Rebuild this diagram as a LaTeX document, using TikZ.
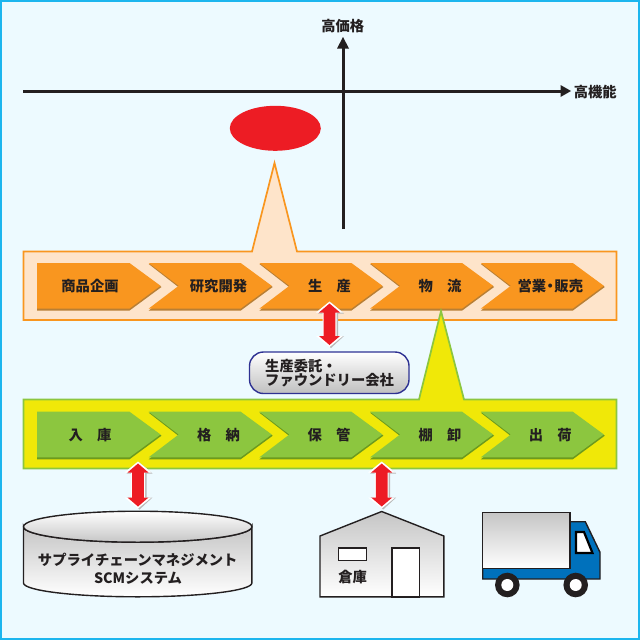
\documentclass[tikz,border=0pt]{standalone}
\usepackage{fontspec}
\setmainfont{Noto Sans CJK JP}
\usetikzlibrary{arrows.meta}
\definecolor{bgc}{HTML}{EDFAFF}
\definecolor{framec}{HTML}{1CB5EE}
\definecolor{orangec}{HTML}{F9961F}
\definecolor{orangesh}{HTML}{B87F35}
\definecolor{peachc}{HTML}{FEE4CA}
\definecolor{yellowc}{HTML}{F0E808}
\definecolor{greenc}{HTML}{8CC63F}
\definecolor{greensh}{HTML}{6C9A1E}
\definecolor{redc}{HTML}{ED1C24}
\definecolor{inkc}{HTML}{231F20}
\definecolor{bluec}{HTML}{0071BC}
\definecolor{pillc}{HTML}{2E3192}
\tikzset{
  lbl/.style={inner sep=0pt,font=\fontsize{14.3}{16}\selectfont\bfseries,text=inkc},
  axisline/.style={line width=3pt,draw=inkc},
  shapeline/.style={draw=inkc,line width=1.4pt,line join=miter},
  metal/.style={top color=gray!45,bottom color=white},
  metalrev/.style={top color=white,bottom color=gray!45},
}
\newcommand{\chevron}[4]{% left x, top y, fill, shadow
  \fill[#4] (#1,#2+1) -- ++(92,0) -- ++(32,23) -- ++(-32,23.6) -- ++(-92,0) -- ++(30,-23.3) -- cycle;
  \fill[#3] (#1,#2) -- ++(92,0) -- ++(31,22.8) -- ++(-31,22.8) -- ++(-92,0) -- ++(30,-22.8) -- cycle;
}
\newcommand{\firstchevron}[4]{%
  \fill[#4] (#1,#2+1) -- ++(92.5,0) -- ++(32,23) -- ++(-32,23.6) -- ++(-92.5,0) -- cycle;
  \fill[#3] (#1,#2) -- ++(92.5,0) -- ++(31,22.8) -- ++(-31,22.8) -- ++(-92.5,0) -- cycle;
}
\newcommand{\updown}[3]{% x, top y, bottom y
  \fill[gray!55] (#1+1.5,#2+1) -- (#1+14.5,#2+12) -- (#1+8.5,#2+12) -- (#1+8.5,#3-11) -- (#1+14.5,#3-11) -- (#1+1.5,#3+1) -- (#1-11.5,#3-11) -- (#1-5.5,#3-11) -- (#1-5.5,#2+12) -- (#1-11.5,#2+12) -- cycle;
  \fill[white] (#1,#2) -- (#1+13.5,#2+11) -- (#1+7,#2+11) -- (#1+7,#3-11) -- (#1+13.5,#3-11) -- (#1,#3) -- (#1-13.5,#3-11) -- (#1-7,#3-11) -- (#1-7,#2+11) -- (#1-13.5,#2+11) -- cycle;
  \fill[redc] (#1,#2+2) -- (#1+10.5,#2+11) -- (#1+5.8,#2+11) -- (#1+5.8,#3-11) -- (#1+10.5,#3-11) -- (#1,#3-2) -- (#1-10.5,#3-11) -- (#1-5.8,#3-11) -- (#1-5.8,#2+11) -- (#1-10.5,#2+11) -- cycle;
}
\begin{document}
\begin{tikzpicture}[x=1pt,y=-1pt]
\useasboundingbox (0,0) rectangle (640,640);
\fill[framec] (0,0) rectangle (640,640);
\fill[bgc] (2,2) rectangle (638,638);
% axes
\draw[axisline] (23,91) -- (562,91);
\fill[inkc] (571,91) -- (560.5,85) -- (560.5,97) -- cycle;
\draw[axisline] (343,229) -- (343,47);
\fill[inkc] (343,37) -- (337,48.5) -- (349,48.5) -- cycle;
\node[lbl] (yl) at (342.7,26) {高価格};
\node[lbl] (xl) at (595.3,92.5) {高機能};
\fill[redc] (275.3,128.3) ellipse [x radius=45.5,y radius=22.5];
% orange band
\draw[draw=orangec,fill=peachc,line width=1.7pt,line join=miter]
  (23.5,251.5) -- (252,251.5) -- (274.5,163) -- (297,251.5) -- (616.5,251.5) -- (616.5,320) -- (23.5,320) -- cycle;
\firstchevron{37}{263}{orangec}{orangesh}
\chevron{148.7}{263}{orangec}{orangesh}
\chevron{259.4}{263}{orangec}{orangesh}
\chevron{370.1}{263}{orangec}{orangesh}
\chevron{480.8}{263}{orangec}{orangesh}
\node[lbl] (a1) at (90,286) {商品企画};
\node[lbl] (a2) at (218.5,286) {研究開発};
\node[lbl] (a3) at (329.5,286) {生　産};
\node[lbl] (a4) at (440,286) {物　流};
\node[lbl] (a5) at (550.3,286) {営業\kern-3pt・\kern-3pt販売};
% yellow band
\draw[draw=greenc,fill=yellowc,line width=1.7pt,line join=miter]
  (23.5,399.5) -- (419,399.5) -- (441,311) -- (464,399.5) -- (616.5,399.5) -- (616.5,468.5) -- (23.5,468.5) -- cycle;
\firstchevron{37}{411.7}{greenc}{greensh}
\chevron{148.7}{411.7}{greenc}{greensh}
\chevron{259.4}{411.7}{greenc}{greensh}
\chevron{370.1}{411.7}{greenc}{greensh}
\chevron{480.8}{411.7}{greenc}{greensh}
\node[lbl] (b1) at (90,435) {入　庫};
\node[lbl] (b2) at (218.5,435) {格　納};
\node[lbl] (b3) at (329,435) {保　管};
\node[lbl] (b4) at (440,435) {棚　卸};
\node[lbl] (b5) at (550.3,435) {出　荷};
% double arrows
\updown{329.5}{301.5}{347}
\updown{138}{461.5}{508.5}
\updown{381.7}{461.5}{508.5}
% pill
\path[draw=pillc,top color=white,bottom color=gray!50,line width=1.4pt,rounded corners=14pt]
  (249.5,352) rectangle (409,393.5);
\node[lbl,align=left,anchor=west,font=\fontsize{14.3}{14.5}\selectfont\bfseries] (pill) at (265,373) {生産委託・\\ファウンドリー会社};
% cylinder
\path[shapeline,metal] (23.5,526.7) -- (23.5,583) arc [start angle=180,end angle=0,x radius=114.2,y radius=13.8] -- (251.9,526.7) arc [start angle=0,end angle=180,x radius=114.2,y radius=15.5] -- cycle;
\path[shapeline,metalrev] (137.7,526.7) ellipse [x radius=114.2,y radius=15.5];
\node[lbl] (s1) at (137.7,560) {サプライチェーンマネジメント};
\node[lbl] (s2) at (138,578.5) {SCMシステム};
% warehouse
\path[shapeline,metal] (320,536) -- (381.7,511.5) -- (443.8,536) -- (443.8,596.8) -- (320,596.8) -- cycle;
\draw[shapeline,fill=white] (338.3,548) rectangle (366.3,560.7);
\draw[shapeline,fill=white] (392,548) rectangle (419.7,596.8);
\node[lbl] (w) at (352.7,577.3) {倉庫};
% truck
\draw[shapeline,fill=bluec] (482.7,568) -- (482.7,579) -- (600,579) -- (600,552.3) -- (585.3,521.7) -- (570,521.7) -- (570,568) -- cycle;
\path[shapeline,metal] (482.7,512.7) rectangle (570,568.3);
\draw[draw=black,line width=2.2pt,fill=white] (576,532) -- (584,532) -- (592.5,553) -- (576,553) -- cycle;
\fill[inkc] (507.3,585) circle (12.3);
\fill[white] (507.3,585) circle (6);
\fill[inkc] (575.7,585) circle (12.3);
\fill[white] (575.7,585) circle (6);
\end{tikzpicture}
\end{document}
